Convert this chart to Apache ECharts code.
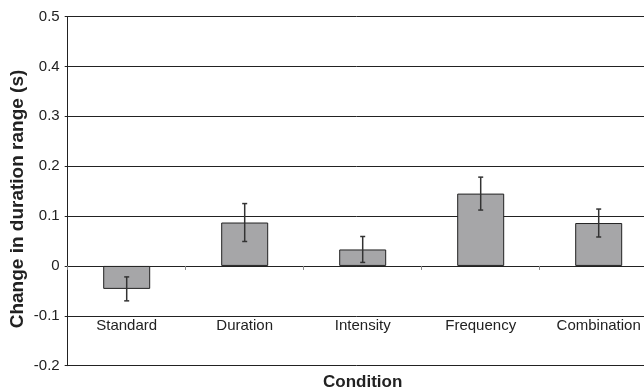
<!DOCTYPE html>
<html>
<head>
<meta charset="utf-8">
<script src="https://cdn.jsdelivr.net/npm/echarts@6/dist/echarts.min.js"></script>
<style>html,body{margin:0;padding:0;background:#fff;}#c{width:644px;height:388px;}</style>
</head>
<body>
<div id="c"></div>
<script>
var categories = ['Standard', 'Duration', 'Intensity', 'Frequency', 'Combination'];
var values = [-0.046, 0.087, 0.033, 0.145, 0.086];
var errors = [0.024, 0.038, 0.026, 0.033, 0.028];
var yTicks = { min: -0.2, max: 0.5, interval: 0.1 };
var yTitle = 'Change in duration range (s)';
var xTitle = 'Condition';

var chart = echarts.init(document.getElementById('c'), null, { renderer: 'canvas' });
var font = '"Liberation Sans", Arial, sans-serif';
var errData = categories.map(function (c, i) { return [i, values[i] - errors[i], values[i] + errors[i]]; });

chart.setOption({
  animation: false,
  backgroundColor: '#ffffff',
  grid: { left: 67.7, top: 16.5, right: -13.7, bottom: 22.3, outerBoundsMode: 'none' },
  graphic: [
    {
      type: 'text',
      x: 17.5, y: 199,
      rotation: Math.PI / 2,
      style: {
        text: yTitle,
        font: 'bold 19px "Liberation Sans", Arial, sans-serif',
        fill: '#222',
        textAlign: 'center',
        textVerticalAlign: 'middle'
      }
    }
  ],
  xAxis: [
    {
      type: 'category',
      data: categories,
      axisLine: { onZero: true, lineStyle: { color: '#222', width: 1 } },
      axisTick: { show: true, length: 4, lineStyle: { color: '#888', width: 1 } },
      axisLabel: { show: false }
    },
    {
      type: 'category',
      data: categories,
      position: 'bottom',
      axisLine: { show: false, onZero: false },
      axisTick: { show: false },
      axisLabel: { show: true, inside: true, margin: 32, fontFamily: font, fontSize: 15, color: '#222' },
      name: xTitle,
      nameLocation: 'middle',
      nameGap: 8,
      nameTextStyle: { fontFamily: font, fontSize: 17, fontWeight: 'bold', color: '#222', verticalAlign: 'top' }
    }
  ],
  yAxis: {
    type: 'value',
    min: yTicks.min, max: yTicks.max, interval: yTicks.interval,
    axisLine: { show: true, lineStyle: { color: '#222', width: 1 } },
    axisTick: { show: true, length: 3, lineStyle: { color: '#222' } },
    splitLine: { show: true, lineStyle: { color: '#222', width: 1 } },
    axisLabel: { margin: 8, fontFamily: font, fontSize: 15, color: '#222',
      formatter: function (v) { return String(Math.round(v * 10) / 10); } }
  },
  series: [
    {
      type: 'bar',
      xAxisIndex: 0,
      data: values,
      barWidth: 47,
      itemStyle: { color: '#a6a6a8', borderColor: '#222', borderWidth: 1 },
      z: 2
    },
    {
      type: 'custom',
      xAxisIndex: 0,
      data: errData,
      z: 3,
      renderItem: function (params, api) {
        var x = api.value(0);
        var lo = api.coord([x, api.value(1)]);
        var hi = api.coord([x, api.value(2)]);
        var cw = 2.5;
        var st = { stroke: '#333', lineWidth: 1.5 };
        return {
          type: 'group',
          children: [
            { type: 'line', shape: { x1: hi[0], y1: hi[1], x2: lo[0], y2: lo[1] }, style: st },
            { type: 'line', shape: { x1: hi[0] - cw, y1: hi[1], x2: hi[0] + cw, y2: hi[1] }, style: st },
            { type: 'line', shape: { x1: lo[0] - cw, y1: lo[1], x2: lo[0] + cw, y2: lo[1] }, style: st }
          ]
        };
      }
    }
  ]
});
</script>
</body>
</html>
